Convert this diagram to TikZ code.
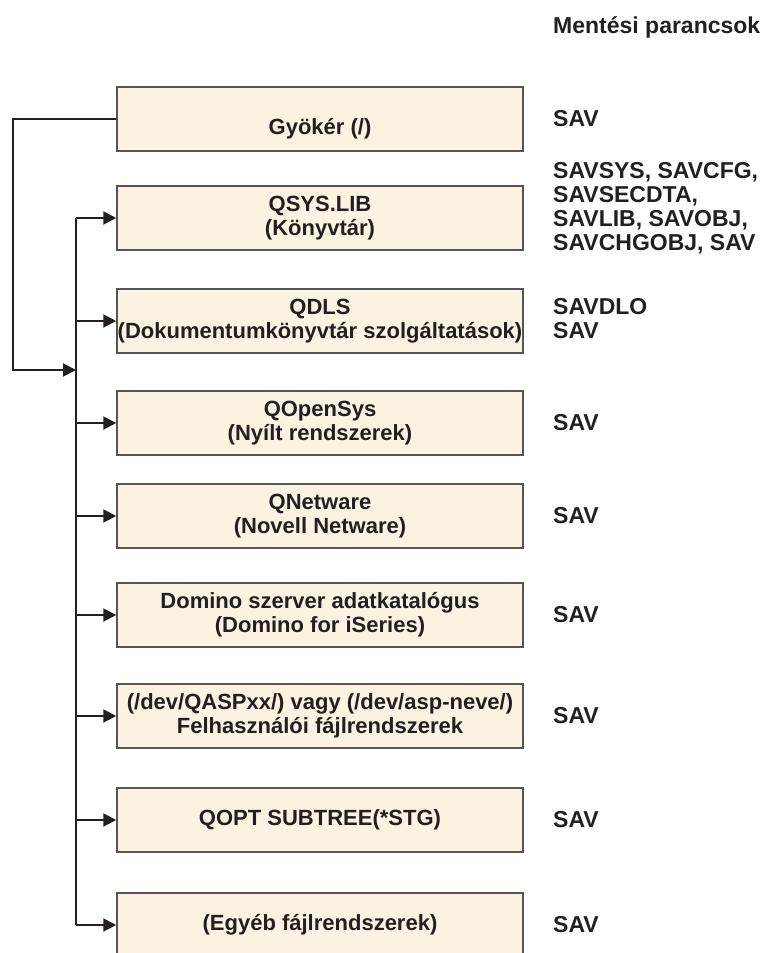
\documentclass[tikz,border=0pt]{standalone}
\usepackage{fontspec}
\setmainfont{Liberation Sans}
\usetikzlibrary{arrows.meta}
\definecolor{boxfill}{RGB}{250,243,225}
\definecolor{boxline}{RGB}{85,85,85}
\definecolor{ink}{RGB}{35,31,32}
\tikzset{
	fsbox/.style={draw=boxline, line width=1.5pt, fill=boxfill, minimum width=406pt, minimum height=64pt, inner sep=0pt, align=center, text=ink, font=\bfseries\fontsize{22}{24}\selectfont},
	cmdtext/.style={anchor=west, inner sep=0pt, align=left, text=ink, font=\bfseries\fontsize{23}{24}\selectfont},
	link/.style={draw=ink, line width=2pt},
	linkarrow/.style={link, -{Triangle[length=13pt, width=13pt]}}
}

\begin{document}
\begin{tikzpicture}[x=1pt, y=-1pt]
			%%%%% START %%%%%
			\clip (0, 0) rectangle (770, 953);
			
			\node[cmdtext] (cmdhead) at (553, 27) {Mentési parancsok};
			
			\node[fsbox, text height=30pt, text depth=0pt] (gyoker) at (320, 119) {Gyökér (/)};
			\node[fsbox] (qsys) at (320, 218) {QSYS.LIB\\(Könyvtár)};
			\node[fsbox] (qdls) at (320, 321) {QDLS\\(Dokumentumkönyvtár szolgáltatások)};
			\node[fsbox] (qopensys) at (320, 423) {QOpenSys\\(Nyílt rendszerek)};
			\node[fsbox] (qnetware) at (320, 516) {QNetware\\(Novell Netware)};
			\node[fsbox] (domino) at (320, 615) {Domino szerver adatkatalógus\\(Domino for iSeries)};
			\node[fsbox] (udfs) at (320, 716) {(/dev/QASPxx/) vagy (/dev/asp-neve/)\\Felhasználói fájlrendszerek};
			\node[fsbox] (qopt) at (320, 820) {QOPT SUBTREE(*STG)};
			\node[fsbox] (egyeb) at (320, 925) {(Egyéb fájlrendszerek)};
			
			\node[cmdtext] (cmdgyoker) at (553, 119) {SAV};
			\node[cmdtext] (cmdqsys) at (553, 208) {SAVSYS, SAVCFG,\\SAVSECDTA,\\SAVLIB, SAVOBJ,\\SAVCHGOBJ, SAV};
			\node[cmdtext] (cmdqdls) at (553, 319) {SAVDLO\\SAV};
			\node[cmdtext] (cmdqopensys) at (553, 423) {SAV};
			\node[cmdtext] (cmdqnetware) at (553, 516) {SAV};
			\node[cmdtext] (cmddomino) at (553, 615) {SAV};
			\node[cmdtext] (cmdudfs) at (553, 716) {SAV};
			\node[cmdtext] (cmdqopt) at (553, 820) {SAV};
			\node[cmdtext] (cmdegyeb) at (553, 925) {SAV};
			
			\coordinate (trunk) at (76, 0);
			\coordinate (bend) at (13, 370);
			
			\draw[linkarrow] (gyoker.west) -| (bend) -- (trunk |- bend);
			\draw[link] (trunk |- qsys.west) -- (trunk |- egyeb.west);
			
			\draw[linkarrow] (trunk |- qsys.west) -- (qsys.west);
			\draw[linkarrow] (trunk |- qdls.west) -- (qdls.west);
			\draw[linkarrow] (trunk |- qopensys.west) -- (qopensys.west);
			\draw[linkarrow] (trunk |- qnetware.west) -- (qnetware.west);
			\draw[linkarrow] (trunk |- domino.west) -- (domino.west);
			\draw[linkarrow] (trunk |- udfs.west) -- (udfs.west);
			\draw[linkarrow] (trunk |- qopt.west) -- (qopt.west);
			\draw[linkarrow] (trunk |- egyeb.west) -- (egyeb.west);
			%%%%% END %%%%%
\end{tikzpicture}
\end{document}
